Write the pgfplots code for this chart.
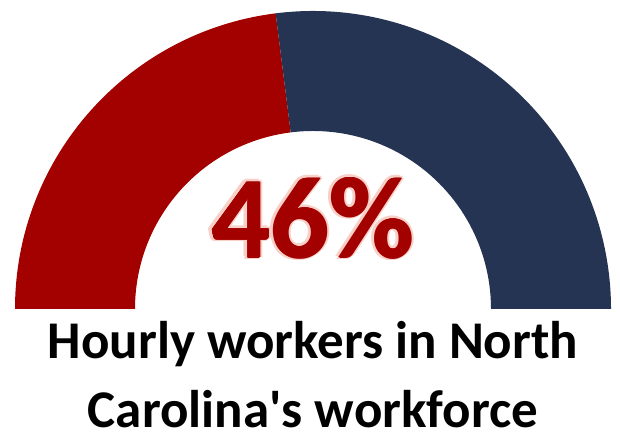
\documentclass[border=0pt]{standalone}
\usepackage{pgfplots}
\pgfplotsset{compat=1.18}
\usepackage{pgfplotstable}
\usepackage{fontspec}
\setmainfont{Carlito}
\definecolor{gred}{HTML}{A30000}
\definecolor{gnavy}{HTML}{253452}
\definecolor{glow}{HTML}{F8D0C8}
\pgfplotstableread{
label value
Hourly 46
Other 54
}\gaugedata
\newcommand{\bigfont}{\fontsize{116}{116}\selectfont\bfseries}
\newcommand{\glowtext}[2]{\node[anchor=base, text=glow, font=\bigfont] at (axis cs:#1,51+#2) {\va\%};}
\newcommand{\redtext}[2]{\node[anchor=base, text=gred, font=\bigfont] at (axis cs:#1,51+#2) {\va\%};}
\begin{document}
\begin{tikzpicture}
\pgfplotstablegetelem{0}{value}\of\gaugedata
\pgfmathtruncatemacro{\va}{\pgfplotsretval}
\pgfmathsetmacro{\angA}{180-1.8*\va}
\begin{axis}[
  x=1pt, y=1pt, scale only axis,
  xmin=-313, xmax=307, ymin=-128, ymax=307,
  hide axis, clip=false
]
\path (axis cs:-313,-128) rectangle (axis cs:307,307);
\fill[gred] (axis cs:-298,0) arc[start angle=180, end angle=\angA, radius=298pt]
  -- (axis cs:{178*cos(\angA)},{178*sin(\angA)}) arc[start angle=\angA, end angle=180, radius=178pt] -- cycle;
\fill[gnavy] (axis cs:{298*cos(\angA)},{298*sin(\angA)}) arc[start angle=\angA, end angle=0, radius=298pt]
  -- (axis cs:178,0) arc[start angle=0, end angle=\angA, radius=178pt] -- cycle;
\glowtext{-4}{1}\glowtext{-3}{2.5}\glowtext{-1}{3}\glowtext{2}{2}
\glowtext{-3.5}{-1.5}\glowtext{2.5}{0}\glowtext{0}{-2}
\redtext{-0.9}{0}\redtext{0.9}{0}\redtext{0}{0.7}\redtext{0}{-0.7}
\redtext{0}{0}
\node[anchor=base, inner sep=0pt, font=\fontsize{53}{53}\selectfont\bfseries] at (axis cs:0,-50) {Hourly workers in North};
\node[anchor=base, inner sep=0pt, font=\fontsize{53}{53}\selectfont\bfseries] at (axis cs:0,-119) {Carolina\textquotesingle s workforce};
\end{axis}
\end{tikzpicture}
\end{document}
